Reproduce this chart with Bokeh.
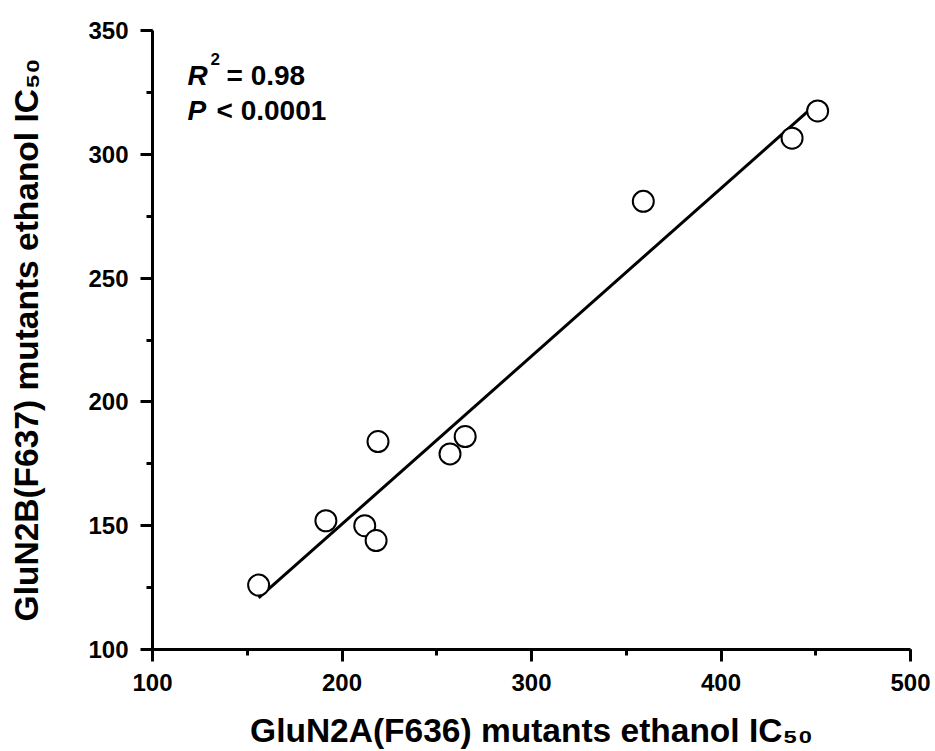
import numpy as np
from bokeh.plotting import figure
from bokeh.models import Range1d, SingleIntervalTicker, Label
from bokeh.embed import file_html
from bokeh.resources import INLINE

# Data
glun2a_ic50 = [156, 191.5, 212, 218, 219, 257, 265, 359, 437.5, 451]
glun2b_ic50 = [126, 152, 150, 144, 184, 179, 186, 281, 306.5, 317.5]
x_ticks_interval = 100
y_ticks_interval = 50
x_title = "GluN2A(F636) mutants ethanol IC\u2085\u2080"
y_title = "GluN2B(F637) mutants ethanol IC\u2085\u2080"

W, H = 935, 751
BL, BR, BT, BB = 152, 25, 30, 100
X0, X1, Y0, Y1 = 100, 500, 100, 350

p = figure(width=W, height=H, output_backend="svg", toolbar_location=None,
           x_range=Range1d(X0, X1), y_range=Range1d(Y0, Y1),
           min_border_left=BL, min_border_right=BR, min_border_top=BT, min_border_bottom=BB,
           x_axis_location="below", y_axis_location="left")
p.outline_line_color = None
p.xgrid.visible = False
p.ygrid.visible = False
p.background_fill_color = "white"
p.border_fill_color = "white"

FONT = "Liberation Sans"
p.xaxis.ticker = SingleIntervalTicker(interval=x_ticks_interval, num_minor_ticks=2)
p.yaxis.ticker = SingleIntervalTicker(interval=y_ticks_interval, num_minor_ticks=2)
for ax in (p.xaxis, p.yaxis):
    ax.axis_line_width = 3
    ax.axis_line_color = "black"
    ax.major_tick_line_width = 3
    ax.minor_tick_line_width = 3
    ax.major_tick_line_color = "black"
    ax.minor_tick_line_color = "black"
    ax.major_tick_out = 12
    ax.major_tick_in = 0
    ax.minor_tick_out = 6
    ax.minor_tick_in = 0
    ax.major_label_text_font = FONT
    ax.major_label_text_font_style = "bold"
    ax.major_label_text_font_size = "24px"
    ax.major_label_text_color = "black"
    ax.major_label_standoff = 12
    ax.axis_label_text_font = FONT
    ax.axis_label_text_font_style = "bold"
    ax.axis_label_text_font_size = "33.5px"
    ax.axis_label_text_color = "black"
p.xaxis.axis_label = x_title
p.yaxis.axis_label = y_title
p.xaxis.axis_label_standoff = 18
p.yaxis.axis_label_standoff = 40

# regression line
slope, intercept = np.polyfit(glun2a_ic50, glun2b_ic50, 1)
fx = np.array([min(glun2a_ic50), max(glun2a_ic50)])
p.line(fx, slope * fx + intercept, line_color="black", line_width=3)

p.scatter(glun2a_ic50, glun2b_ic50, marker="circle", size=21, fill_color="white",
          line_color="black", line_width=2)

# pixel -> data helpers for annotation placement
fw = W - BL - BR
fh = H - BT - BB
def dx(px):
    return X0 + (px - BL) / fw * (X1 - X0)
def dy(py):
    return Y0 + (BT + fh - py) / fh * (Y1 - Y0)

def lab(px, py, text, size, style="bold", align="left"):
    p.add_layout(Label(x=dx(px), y=dy(py), text=text, text_font=FONT,
                       text_font_size=size, text_font_style=style, text_align=align,
                       text_baseline="alphabetic", text_color="black"))

# stats
lab(187, 75, "R", "28px", style="bold italic")
lab(210, 59, "2", "17px")
lab(226, 75, "= 0.98", "28px")
lab(187, 110, "P", "28px", style="bold italic")
lab(216, 110, "< 0.0001", "28px")

open("out.html", "w").write(file_html(p, INLINE))
